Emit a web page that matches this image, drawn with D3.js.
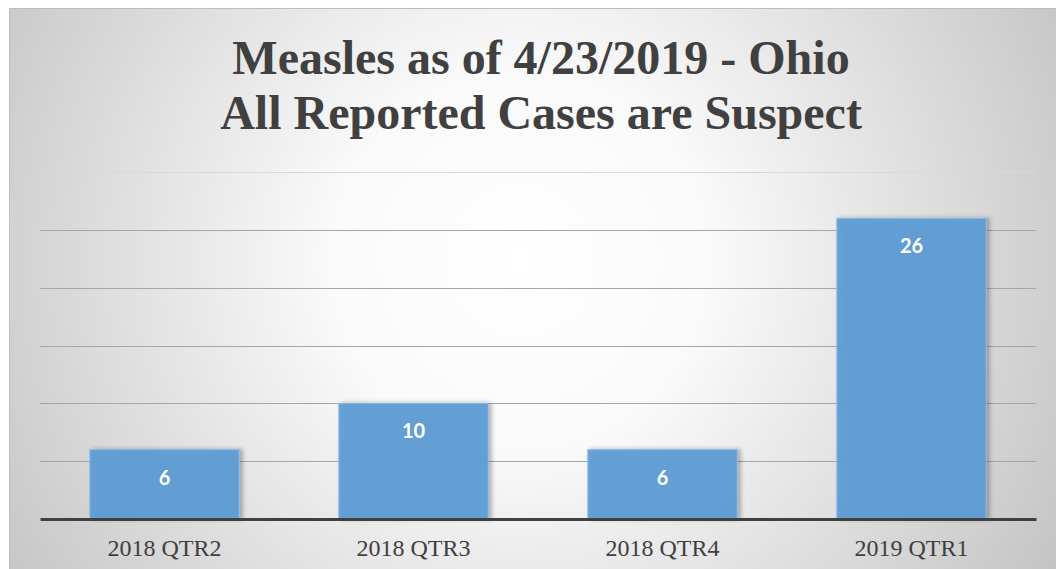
<!DOCTYPE html>
<html>
<head>
<meta charset="utf-8">
<script src="https://cdn.jsdelivr.net/npm/d3@7"></script>
<style>
  html, body { margin: 0; padding: 0; background: #fff; }
  svg { display: block; }
</style>
</head>
<body>
<div id="chart"></div>
<script>
// chart data
const categories = ['2018 QTR2', '2018 QTR3', '2018 QTR4', '2019 QTR1'];
const cases = [6, 10, 6, 26];
const yTicks = [5, 10, 15, 20, 25, 30];
const titleLines = ['Measles as of 4/23/2019 - Ohio', 'All Reported Cases are Suspect'];

const W = 1056, H = 569;
const margin = {top: 172, right: 20, bottom: 50, left: 40};
const titleFont = 'Liberation Serif';

const svg = d3.select('#chart')
    .append('svg')
    .attr('width', W)
    .attr('height', H);

const defs = svg.append('defs');
const grad = defs.append('radialGradient')
    .attr('id', 'bg')
    .attr('gradientUnits', 'userSpaceOnUse')
    .attr('cx', 520).attr('cy', 260).attr('r', 620);
grad.append('stop').attr('offset', '0%').attr('stop-color', '#ffffff');
grad.append('stop').attr('offset', '30%').attr('stop-color', '#fafafa');
grad.append('stop').attr('offset', '100%').attr('stop-color', '#c4c4c4');

const shadow = defs.append('filter')
    .attr('id', 'shadow')
    .attr('x', '-10%').attr('y', '-10%').attr('width', '130%').attr('height', '130%');
shadow.append('feDropShadow')
    .attr('dx', 3).attr('dy', 0).attr('stdDeviation', 2)
    .attr('flood-color', '#000').attr('flood-opacity', 0.3);

// chart area background + border
svg.append('rect')
    .attr('x', 9.5).attr('y', 8.5)
    .attr('width', W).attr('height', H)
    .attr('fill', 'url(#bg)')
    .attr('stroke', '#bdbdbd')
    .attr('stroke-width', 1);

// title
svg.append('g')
    .selectAll('text')
    .data(titleLines)
    .enter()
    .append('text')
    .attr('x', 541)
    .attr('y', (d, i) => 74 + i * 55)
    .attr('text-anchor', 'middle')
    .attr('font-family', titleFont)
    .attr('font-weight', 700)
    .attr('font-size', 48)
    .attr('fill', '#404040')
    .text(d => d);

const x = d3.scaleBand()
    .domain(categories)
    .range([margin.left, W - margin.right])
    .paddingInner(0.4)
    .paddingOuter(0.2);

const y = d3.scaleLinear()
    .domain([0, 30])
    .range([H - margin.bottom, margin.top]);

// gridlines
svg.append('g')
    .selectAll('line')
    .data(yTicks)
    .enter()
    .append('line')
    .attr('x1', margin.left)
    .attr('x2', W - margin.right)
    .attr('y1', d => Math.round(y(d)) + 0.5)
    .attr('y2', d => Math.round(y(d)) + 0.5)
    .attr('stroke', d => d === 30 ? '#d9d9d9' : '#a6a6a6')
    .attr('stroke-width', 1);

// bars
svg.append('g')
    .selectAll('rect')
    .data(cases)
    .enter()
    .append('rect')
    .attr('x', (d, i) => x(categories[i]))
    .attr('y', d => y(d))
    .attr('width', x.bandwidth())
    .attr('height', d => y(0) - y(d))
    .attr('fill', '#5b9bd5')
    .attr('fill-opacity', 0.92)
    .attr('stroke', '#8fbbe6')
    .attr('stroke-width', 1)
    .attr('filter', 'url(#shadow)');

// value labels
svg.append('g')
    .selectAll('text')
    .data(cases)
    .enter()
    .append('text')
    .attr('x', (d, i) => x(categories[i]) + x.bandwidth() / 2)
    .attr('y', d => y(d) + 35)
    .attr('text-anchor', 'middle')
    .attr('font-family', 'Lato')
    .attr('font-weight', 700)
    .attr('font-size', 20)
    .attr('fill', '#ffffff')
    .text(d => d);

// baseline + category axis (d3 axis sets its own font-family on the group)
const xAxis = svg.append('g')
    .attr('transform', `translate(0,${y(0)})`)
    .call(d3.axisBottom(x).tickSize(0).tickPadding(20))
    .attr('font-family', titleFont)
    .attr('font-size', 24);
xAxis.select('.domain')
    .attr('stroke', '#404040')
    .attr('stroke-width', 3);
xAxis.selectAll('text')
    .attr('fill', '#404040');
</script>
</body>
</html>
